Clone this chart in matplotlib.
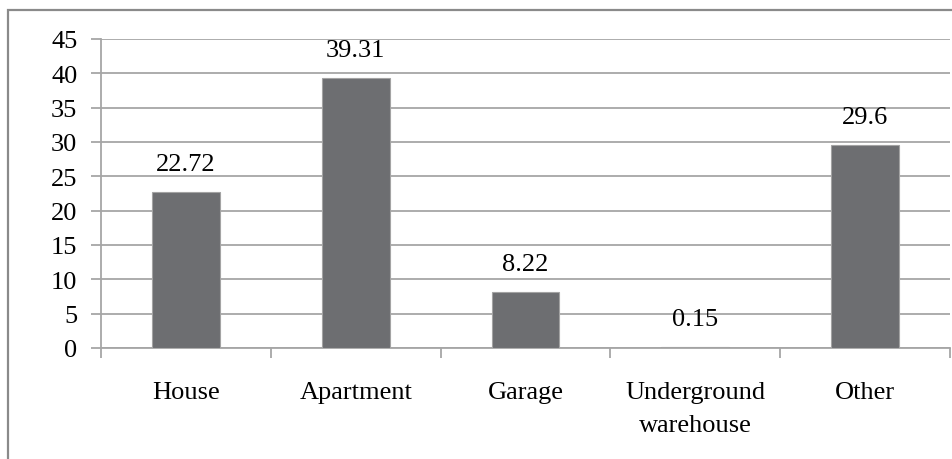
import matplotlib
matplotlib.use('Agg')
import matplotlib.pyplot as plt

categories = ['House', 'Apartment', 'Garage', 'Underground\nwarehouse', 'Other']
values = [22.72, 39.31, 8.22, 0.15, 29.6]
value_labels = ['22.72', '39.31', '8.22', '0.15', '29.6']
y_ticks = [0, 5, 10, 15, 20, 25, 30, 35, 40, 45]

plt.rcParams['font.family'] = ['Liberation Serif', 'DejaVu Serif']
grid_color = '#a6a6a6'
fs = 19

fig = plt.figure(figsize=(9.52, 4.60), dpi=100)

# background axes in pixel units for the outer chart border (left and top only)
bg = fig.add_axes([0, 0, 1, 1], zorder=-1)
bg.set_xlim(0, 952)
bg.set_ylim(460, 0)
bg.axis('off')
bg.plot([7.5, 7.5, 952], [460, 10.5, 10.5], color='#8a8a8a', linewidth=1.6,
        solid_joinstyle='miter', clip_on=False)

ax = fig.add_axes([101 / 952, 1 - 349 / 460, 849 / 952, 309 / 460])

x = list(range(len(categories)))
bars = ax.bar(x, values, width=0.4, color='#6d6e71', edgecolor='#a3a3a3',
              linewidth=0.8, zorder=3)

for xi, v, lab in zip(x, values, value_labels):
    ax.annotate(lab, (xi, v), xytext=(0, 12), textcoords='offset points',
                ha='center', va='bottom', fontsize=fs)

ax.set_xlim(-0.5, len(categories) - 0.5)
ax.set_ylim(0, 45)
ax.set_yticks(y_ticks)
ax.yaxis.grid(True, color=grid_color, linewidth=1.3, zorder=0)
ax.set_axisbelow(True)

ax.set_xticks(x)
ax.set_xticklabels(categories, fontsize=fs, linespacing=1.65)
ax.set_xticks([i - 0.5 for i in range(len(categories) + 1)], minor=True)
ax.tick_params(axis='x', which='major', length=0, pad=24)
ax.tick_params(axis='x', which='minor', length=7, width=1.3, color=grid_color, direction='out')
ax.tick_params(axis='y', length=7, width=1.3, color=grid_color, direction='out',
               labelsize=fs, pad=10)

for side in ['top', 'right']:
    ax.spines[side].set_visible(False)
for side in ['left', 'bottom']:
    ax.spines[side].set_color(grid_color)
    ax.spines[side].set_linewidth(1.3)

fig.savefig('out.png', dpi=100)
